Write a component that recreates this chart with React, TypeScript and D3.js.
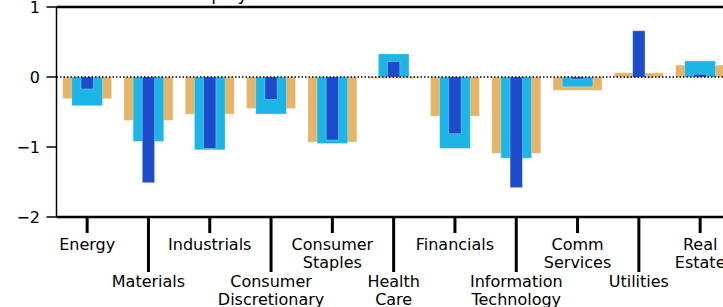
import React, { useEffect, useRef } from 'react'
import * as d3 from 'd3'

const W = 723
const H = 307

// categories and tick labels (\n = line break)
const sectors: string[] = ['Energy', 'Materials', 'Industrials', 'Consumer Discretionary', 'Consumer Staples',
    'Health Care', 'Financials', 'Information Technology', 'Comm Services', 'Utilities', 'Real Estate']
const tickLabels: string[] = ['Energy', 'Materials', 'Industrials', 'Consumer\nDiscretionary', 'Consumer\nStaples',
    'Health\nCare', 'Financials', 'Information\nTechnology', 'Comm\nServices', 'Utilities', 'Real\nEstate']

// three overlapping series, widest first
const wideVals: number[] = [-0.31, -0.62, -0.53, -0.45, -0.93, -0.02, -0.56, -1.09, -0.19, 0.06, 0.17]
const midVals: number[] = [-0.41, -0.92, -1.04, -0.53, -0.95, 0.33, -1.02, -1.16, -0.14, -0.01, 0.23]
const narrowVals: number[] = [-0.17, -1.51, -1.02, -0.32, -0.90, 0.22, -0.81, -1.58, -0.03, 0.66, 0.04]

const yTicks: number[] = [1, 0, -1, -2]
const title = 'Relative Sector Equity Returns vs Benchmark'

const font = '"DejaVu Sans", sans-serif'

export default function App() {
    const ref = useRef<SVGSVGElement>(null)

    useEffect(() => {
        const svg = d3.select(ref.current)
        svg.selectAll('*').remove()

        const left = 56.5
        const step = 61.3
        const x = d3.scaleBand<string>()
            .domain(sectors)
            .range([left, left + step * sectors.length])
            .padding(0)
        const y = d3.scaleLinear().domain([-2, 1]).range([217, 7])

        const g = svg.append('g')

        // title, almost entirely cut off above the frame
        g.append('text')
            .attr('x', 62)
            .attr('y', -0.5)
            .attr('textLength', 381)
            .attr('lengthAdjust', 'spacingAndGlyphs')
            .attr('font-family', font)
            .attr('font-size', 20)
            .text(title)

        const series = [
            { vals: wideVals, frac: 0.8, color: '#E6B469' },
            { vals: midVals, frac: 0.5, color: '#1DB5E6' },
            { vals: narrowVals, frac: 0.2, color: '#1C4BCB' },
        ]
        series.forEach(s => {
            const bw = step * s.frac
            g.append('g').selectAll('rect')
                .data(sectors)
                .enter().append('rect')
                .attr('x', d => (x(d) as number) + step / 2 - bw / 2)
                .attr('width', bw)
                .attr('y', (d, i) => y(Math.max(0, s.vals[i])))
                .attr('height', (d, i) => Math.abs(y(s.vals[i]) - y(0)))
                .attr('fill', s.color)
                .attr('stroke', '#ffffff')
                .attr('stroke-opacity', 0.35)
                .attr('stroke-width', 0.8)
        })

        // dotted zero line
        g.append('line')
            .attr('x1', left).attr('x2', W)
            .attr('y1', y(0)).attr('y2', y(0))
            .attr('stroke', '#000')
            .attr('stroke-width', 1.5)
            .attr('stroke-dasharray', '1.5,2')

        // spines
        g.append('line').attr('x1', left).attr('x2', left).attr('y1', y(1)).attr('y2', y(-2))
            .attr('stroke', '#000').attr('stroke-width', 1.5)
        g.append('line').attr('x1', left).attr('x2', W).attr('y1', y(1)).attr('y2', y(1))
            .attr('stroke', '#000').attr('stroke-width', 2.5)
        g.append('line').attr('x1', left).attr('x2', W).attr('y1', y(-2)).attr('y2', y(-2))
            .attr('stroke', '#000').attr('stroke-width', 2.5)

        // y axis
        yTicks.forEach(t => {
            g.append('line')
                .attr('x1', left - 10).attr('x2', left)
                .attr('y1', y(t)).attr('y2', y(t))
                .attr('stroke', '#000').attr('stroke-width', 1.5)
            g.append('text')
                .attr('x', 40)
                .attr('y', y(t) + 5.8)
                .attr('text-anchor', 'end')
                .attr('font-family', font)
                .attr('font-size', 16)
                .text(t < 0 ? '\u2212' + Math.abs(t) : String(t))
        })

        // x axis: alternating short and long ticks
        sectors.forEach((d, i) => {
            const cx = (x(d) as number) + step / 2
            const long = i % 2 === 1
            const tickEnd = long ? 272 : 233
            g.append('line')
                .attr('x1', cx).attr('x2', cx)
                .attr('y1', y(-2)).attr('y2', tickEnd)
                .attr('stroke', '#000').attr('stroke-width', 3)
            const txt = g.append('text')
                .attr('text-anchor', 'middle')
                .attr('font-family', font)
                .attr('font-size', 16)
            tickLabels[i].split('\n').forEach((line, j) => {
                txt.append('tspan')
                    .attr('x', cx)
                    .attr('y', (long ? 287 : 250) + j * 17.8)
                    .text(line)
            })
        })
    }, [])

    return (
        <svg ref={ref} width={W} height={H}
            style={{ position: 'absolute', left: 0, top: 0, background: '#fff' }} />
    )
}
